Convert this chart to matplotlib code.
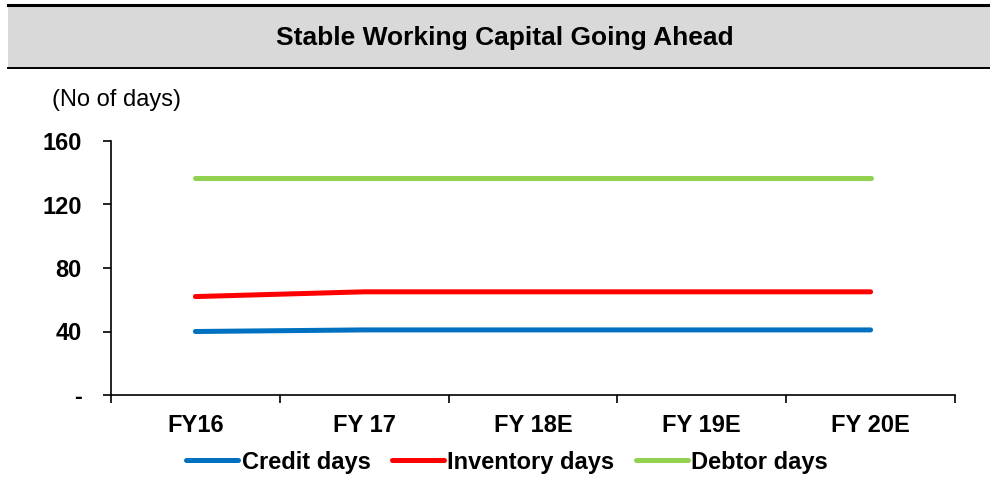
import matplotlib.pyplot as plt
from matplotlib.patches import Rectangle
from matplotlib.lines import Line2D

plt.rcParams['font.family'] = ['Liberation Sans', 'DejaVu Sans']

years = ["FY16", "FY 17", "FY 18E", "FY 19E", "FY 20E"]
credit_days = [40, 41, 41, 41, 41]
inventory_days = [62, 65, 65, 65, 65]
debtor_days = [137, 137, 137, 137, 137]

series = [
  ("Credit days", credit_days, "#0070c0"),
  ("Inventory days", inventory_days, "#ff0000"),
  ("Debtor days", debtor_days, "#92d050"),
]

W, H = 990, 487
fig = plt.figure(figsize=(W / 100, H / 100), dpi=100)

# title band
fig.patches.append(Rectangle((8 / W, 419 / H), 1 - 8 / W, 63 / H, transform=fig.transFigure,
                             facecolor="#d9d9d9", edgecolor="none", zorder=0))
fig.lines.append(Line2D([8 / W, 1], [482 / H, 482 / H], transform=fig.transFigure, color="black", lw=2.2))
fig.lines.append(Line2D([8 / W, 1], [419 / H, 419 / H], transform=fig.transFigure, color="black", lw=1.4))
fig.text(505 / W, 449 / H, "Stable Working Capital Going Ahead", ha="center", va="center",
         fontsize=19, fontweight="bold")
fig.text(52 / W, 387 / H, "(No of days)", ha="left", va="center", fontsize=17)

ax = fig.add_axes([111 / W, 92 / H, 844 / W, 254 / H])
x = list(range(len(years)))
for name, vals, color in series:
  ax.plot(x, vals, color=color, lw=3.6, solid_capstyle="round", label=name)

ax.set_xlim(-0.5, len(years) - 0.5)
ax.set_ylim(0, 160)
ax.set_yticks([0, 40, 80, 120, 160])
ax.set_yticklabels(["-", "40", "80", "120", "160"])
ax.set_xticks([i - 0.5 for i in range(len(years) + 1)])
ax.set_xticklabels([])
ax.set_xticks(x, minor=True)
ax.set_xticklabels(years, minor=True)
ax.tick_params(axis="x", which="major", direction="out", length=6, width=1.2)
ax.tick_params(axis="x", which="minor", length=0, pad=14, labelsize=17)
ax.tick_params(axis="y", direction="out", length=6, width=1.2, pad=15, labelsize=17)
for lab in ax.get_xticklabels(minor=True) + ax.get_yticklabels():
  lab.set_fontweight("bold")
for side in ("top", "right"):
  ax.spines[side].set_visible(False)
for side in ("left", "bottom"):
  ax.spines[side].set_linewidth(1.2)

leg = fig.legend(loc="center", bbox_to_anchor=(507 / W, 25 / H), ncol=3, frameon=False,
                 handlelength=2.2, handletextpad=0.15, columnspacing=0.9,
                 prop={"size": 17, "weight": "bold"})

fig.savefig("out.png", dpi=100)
